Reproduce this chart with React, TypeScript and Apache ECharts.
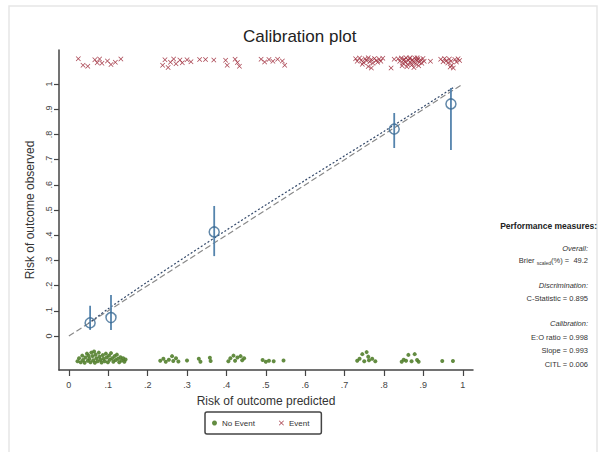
import React, { useEffect, useRef } from "react";
import * as echarts from "echarts";

const xTickValues = [0, 0.1, 0.2, 0.3, 0.4, 0.5, 0.6, 0.7, 0.8, 0.9, 1];
const xTickLabels = ["0", ".1", ".2", ".3", ".4", ".5", ".6", ".7", ".8", ".9", "1"];
const yTickValues = [0, 0.1, 0.2, 0.3, 0.4, 0.5, 0.6, 0.7, 0.8, 0.9, 1];
const yTickLabels = ["0", ".1", ".2", ".3", ".4", ".5", ".6", ".7", ".8", ".9", "1"];

const calX = [0.054, 0.107, 0.369, 0.826, 0.97];
const calY = [0.052, 0.073, 0.413, 0.821, 0.921];
const calLo = [0.024, 0.024, 0.317, 0.746, 0.738];
const calHi = [0.12, 0.163, 0.516, 0.885, 0.984];

const diagX = [0, 1];
const diagY = [0, 1];

const smoothX = [0.05, 0.1, 0.2, 0.3, 0.4, 0.5, 0.6, 0.7, 0.8, 0.9, 0.98];
const smoothY = [0.05, 0.108, 0.215, 0.318, 0.42, 0.52, 0.618, 0.715, 0.812, 0.91, 0.99];

const events: number[][] = [
  [0.024, 1.1], [0.036, 1.074], [0.048, 1.071], [0.066, 1.096], [0.072, 1.084], [0.078, 1.099],
  [0.084, 1.082], [0.098, 1.091], [0.107, 1.077], [0.118, 1.086], [0.132, 1.099],
  [0.238, 1.074], [0.244, 1.096], [0.252, 1.066], [0.258, 1.086], [0.266, 1.099], [0.272, 1.08],
  [0.282, 1.095], [0.288, 1.084], [0.3, 1.096], [0.31, 1.088], [0.332, 1.097], [0.347, 1.097], [0.368, 1.095],
  [0.398, 1.094], [0.402, 1.074], [0.422, 1.098], [0.428, 1.085], [0.433, 1.071],
  [0.488, 1.098], [0.497, 1.087], [0.508, 1.097], [0.518, 1.09], [0.53, 1.098], [0.542, 1.091], [0.548, 1.074],
  [0.728, 1.1], [0.732, 1.09], [0.738, 1.103], [0.742, 1.094], [0.748, 1.085], [0.752, 1.1], [0.756, 1.092],
  [0.76, 1.104], [0.764, 1.088], [0.768, 1.097], [0.772, 1.082], [0.776, 1.101], [0.78, 1.093], [0.784, 1.086],
  [0.788, 1.099], [0.792, 1.09], [0.797, 1.102], [0.76, 1.07], [0.768, 1.064], [0.745, 1.078],
  [0.818, 1.064], [0.826, 1.098],
  [0.836, 1.1], [0.84, 1.09], [0.844, 1.103], [0.848, 1.082], [0.85, 1.095], [0.854, 1.086], [0.856, 1.104],
  [0.86, 1.078], [0.862, 1.093], [0.865, 1.1], [0.868, 1.084], [0.87, 1.074], [0.872, 1.096], [0.875, 1.088],
  [0.878, 1.103], [0.88, 1.08], [0.883, 1.092], [0.886, 1.099], [0.888, 1.072], [0.89, 1.086], [0.893, 1.096],
  [0.896, 1.082], [0.899, 1.101], [0.902, 1.09], [0.858, 1.069], [0.876, 1.066], [0.846, 1.072], [0.866, 1.104],
  [0.884, 1.104], [0.852, 1.098], [0.918, 1.09],
  [0.944, 1.098], [0.95, 1.088], [0.954, 1.101], [0.958, 1.092], [0.962, 1.083], [0.966, 1.099], [0.97, 1.09],
  [0.972, 1.074], [0.976, 1.064], [0.98, 1.097], [0.984, 1.087], [0.988, 1.1], [0.992, 1.093], [0.968, 1.068],
];

const nonEvents: number[][] = [
  [0.022, -0.1], [0.026, -0.088], [0.03, -0.104], [0.034, -0.078], [0.036, -0.095], [0.04, -0.106],
  [0.042, -0.085], [0.046, -0.07], [0.048, -0.098], [0.052, -0.09], [0.055, -0.104], [0.057, -0.066],
  [0.06, -0.08], [0.062, -0.096], [0.066, -0.106], [0.068, -0.074], [0.07, -0.088], [0.073, -0.1],
  [0.076, -0.066], [0.078, -0.082], [0.08, -0.094], [0.083, -0.105], [0.086, -0.076], [0.088, -0.09],
  [0.091, -0.1], [0.094, -0.07], [0.096, -0.085], [0.099, -0.104], [0.102, -0.078], [0.104, -0.094],
  [0.107, -0.068], [0.11, -0.088], [0.113, -0.102], [0.116, -0.08], [0.119, -0.095], [0.122, -0.074],
  [0.125, -0.09], [0.128, -0.104], [0.131, -0.084], [0.134, -0.097], [0.138, -0.088], [0.141, -0.102],
  [0.144, -0.093], [0.05, -0.078], [0.064, -0.062],
  [0.232, -0.098], [0.24, -0.09], [0.246, -0.102], [0.254, -0.094], [0.262, -0.08], [0.265, -0.099],
  [0.272, -0.088], [0.278, -0.101], [0.3, -0.097], [0.33, -0.09], [0.334, -0.102], [0.358, -0.086], [0.36, -0.099],
  [0.405, -0.1], [0.41, -0.088], [0.418, -0.078], [0.422, -0.098], [0.428, -0.085], [0.436, -0.08],
  [0.44, -0.096], [0.445, -0.088],
  [0.492, -0.095], [0.5, -0.102], [0.508, -0.098], [0.52, -0.1], [0.545, -0.097],
  [0.732, -0.098], [0.738, -0.09], [0.745, -0.072], [0.75, -0.1], [0.756, -0.064], [0.76, -0.082],
  [0.762, -0.096], [0.77, -0.09], [0.778, -0.1],
  [0.845, -0.102], [0.85, -0.094], [0.856, -0.098], [0.862, -0.075], [0.87, -0.1], [0.878, -0.072],
  [0.884, -0.095], [0.888, -0.102],
  [0.948, -0.099], [0.975, -0.099],
];

const perfLines = [
  { text: "Overall:", italic: true, y: 248 },
  { text: "Brier {s|scaled}(%) =  49.2", italic: false, y: 260 },
  { text: "Discrimination:", italic: true, y: 285 },
  { text: "C-Statistic = 0.895", italic: false, y: 298 },
  { text: "Calibration:", italic: true, y: 323 },
  { text: "E:O ratio = 0.998", italic: false, y: 337 },
  { text: "Slope = 0.993", italic: false, y: 350 },
  { text: "CITL = 0.006", italic: false, y: 364 },
];

const FONT = "'Liberation Sans', Arial, sans-serif";
const X_PATH = "path://M0,1 L1,0 L5,4 L9,0 L10,1 L6,5 L10,9 L9,10 L5,6 L1,10 L0,9 L4,5 Z";

export default function App() {
  const ref = useRef<HTMLDivElement>(null);
  useEffect(() => {
    if (!ref.current) return;
    const chart = echarts.init(ref.current, undefined, { renderer: "svg" });
    const option: any = {
      animation: false,
      backgroundColor: "#ffffff",
      title: {
        text: "Calibration plot",
        left: 238,
        top: 23,
        textStyle: { fontFamily: FONT, fontSize: 17, fontWeight: "normal", color: "#222" },
      },
      legend: {
        data: ["No Event", "Event"],
        left: 205,
        top: 412,
        itemWidth: 5,
        itemHeight: 5,
        itemGap: 24,
        padding: [7, 12, 7, 7],
        borderColor: "#444",
        borderWidth: 1.5,
        borderRadius: 2,
        textStyle: { fontFamily: FONT, fontSize: 8, color: "#333" },
      },
      grid: { left: 59, right: 129, top: 50, bottom: 82 },
      xAxis: {
        type: "value",
        min: -0.025,
        max: 1.026,
        name: "Risk of outcome predicted",
        nameLocation: "middle",
        nameGap: 25,
        nameTextStyle: { fontFamily: FONT, fontSize: 12, color: "#333" },
        axisLine: { show: true, onZero: false, lineStyle: { color: "#444", width: 1.5 } },
        axisTick: { show: true, length: 6, customValues: xTickValues, lineStyle: { color: "#444", width: 1.2 } },
        axisLabel: {
          customValues: xTickValues,
          formatter: (v: number) => xTickLabels[xTickValues.findIndex((t) => Math.abs(t - v) < 1e-6)] ?? "",
          fontFamily: FONT,
          fontSize: 9,
          color: "#444",
          margin: 10,
        },
        splitLine: { show: false },
      },
      yAxis: {
        type: "value",
        min: -0.135,
        max: 1.135,
        name: "Risk of outcome observed",
        nameLocation: "middle",
        nameGap: 21,
        nameTextStyle: { fontFamily: FONT, fontSize: 12, color: "#333" },
        axisLine: { show: true, onZero: false, lineStyle: { color: "#444", width: 1.5 } },
        axisTick: { show: true, length: 5, customValues: yTickValues, lineStyle: { color: "#444", width: 1.2 } },
        axisLabel: {
          customValues: yTickValues,
          rotate: 90,
          formatter: (v: number) => yTickLabels[yTickValues.findIndex((t) => Math.abs(t - v) < 1e-6)] ?? "",
          fontFamily: FONT,
          fontSize: 9,
          color: "#444",
          margin: 6,
        },
        splitLine: { show: false },
      },
      series: [
        {
          name: "No Event",
          type: "scatter",
          data: nonEvents,
          symbol: "circle",
          symbolSize: 4,
          itemStyle: { color: "#527f2c", opacity: 0.9 },
          z: 2,
        },
        {
          name: "Event",
          type: "scatter",
          data: events,
          symbol: X_PATH,
          symbolSize: 5,
          itemStyle: { color: "#9e2b3b", opacity: 0.9 },
          z: 2,
        },
        {
          name: "Diagonal",
          type: "line",
          data: diagX.map((x, i) => [x, diagY[i]]),
          showSymbol: false,
          lineStyle: { color: "#8a8a8a", width: 1.2, type: [6, 3] },
          z: 3,
        },
        {
          name: "Smoother",
          type: "line",
          data: smoothX.map((x, i) => [x, smoothY[i]]),
          showSymbol: false,
          smooth: 0.3,
          lineStyle: { color: "#34496a", width: 1.2, type: [2, 2] },
          z: 3,
        },
        {
          name: "CI",
          type: "custom",
          data: calX.map((x, i) => [x, calLo[i], calHi[i]]),
          encode: { x: 0, y: [1, 2] },
          renderItem: (_p: any, api: any) => {
            const x = api.value(0);
            const p1 = api.coord([x, api.value(1)]);
            const p2 = api.coord([x, api.value(2)]);
            return {
              type: "line",
              shape: { x1: p1[0], y1: p1[1], x2: p2[0], y2: p2[1] },
              style: { stroke: "#5584ad", lineWidth: 1.8 },
            };
          },
          z: 4,
        },
        {
          name: "Groups",
          type: "scatter",
          data: calX.map((x, i) => [x, calY[i]]),
          symbol: "circle",
          symbolSize: 10,
          itemStyle: { color: "rgba(255,255,255,0)", borderColor: "#3b6a94", borderWidth: 1.5 },
          z: 5,
        },
      ],
      graphic: [
        {
          type: "rect",
          shape: { x: 9, y: 6, width: 588, height: 460 },
          style: { fill: "none", stroke: "#e6e6e6", lineWidth: 1.5 },
          silent: true,
          z: -10,
        },
        {
          type: "text",
          style: {
            text: "Performance measures:",
            x: 597,
            y: 226,
            textAlign: "right",
            textVerticalAlign: "middle",
            font: `bold 8.5px ${FONT}`,
            fill: "#222",
          },
        },
        ...perfLines.map((l) => ({
          type: "text",
          style: {
            text: l.text,
            x: 588,
            y: l.y,
            textAlign: "right",
            textVerticalAlign: "middle",
            font: `${l.italic ? "italic " : ""}7.5px ${FONT}`,
            fill: "#333",
            rich: { s: { fontSize: 5, fontFamily: FONT, fill: "#333", padding: [6, 0, 0, 0] } },
          },
        })),
      ],
    };
    chart.setOption(option);
    return () => chart.dispose();
  }, []);
  return (
    <div
      ref={ref}
      style={{ position: "fixed", left: 0, top: 0, width: 602, height: 452 }}
    />
  );
}
